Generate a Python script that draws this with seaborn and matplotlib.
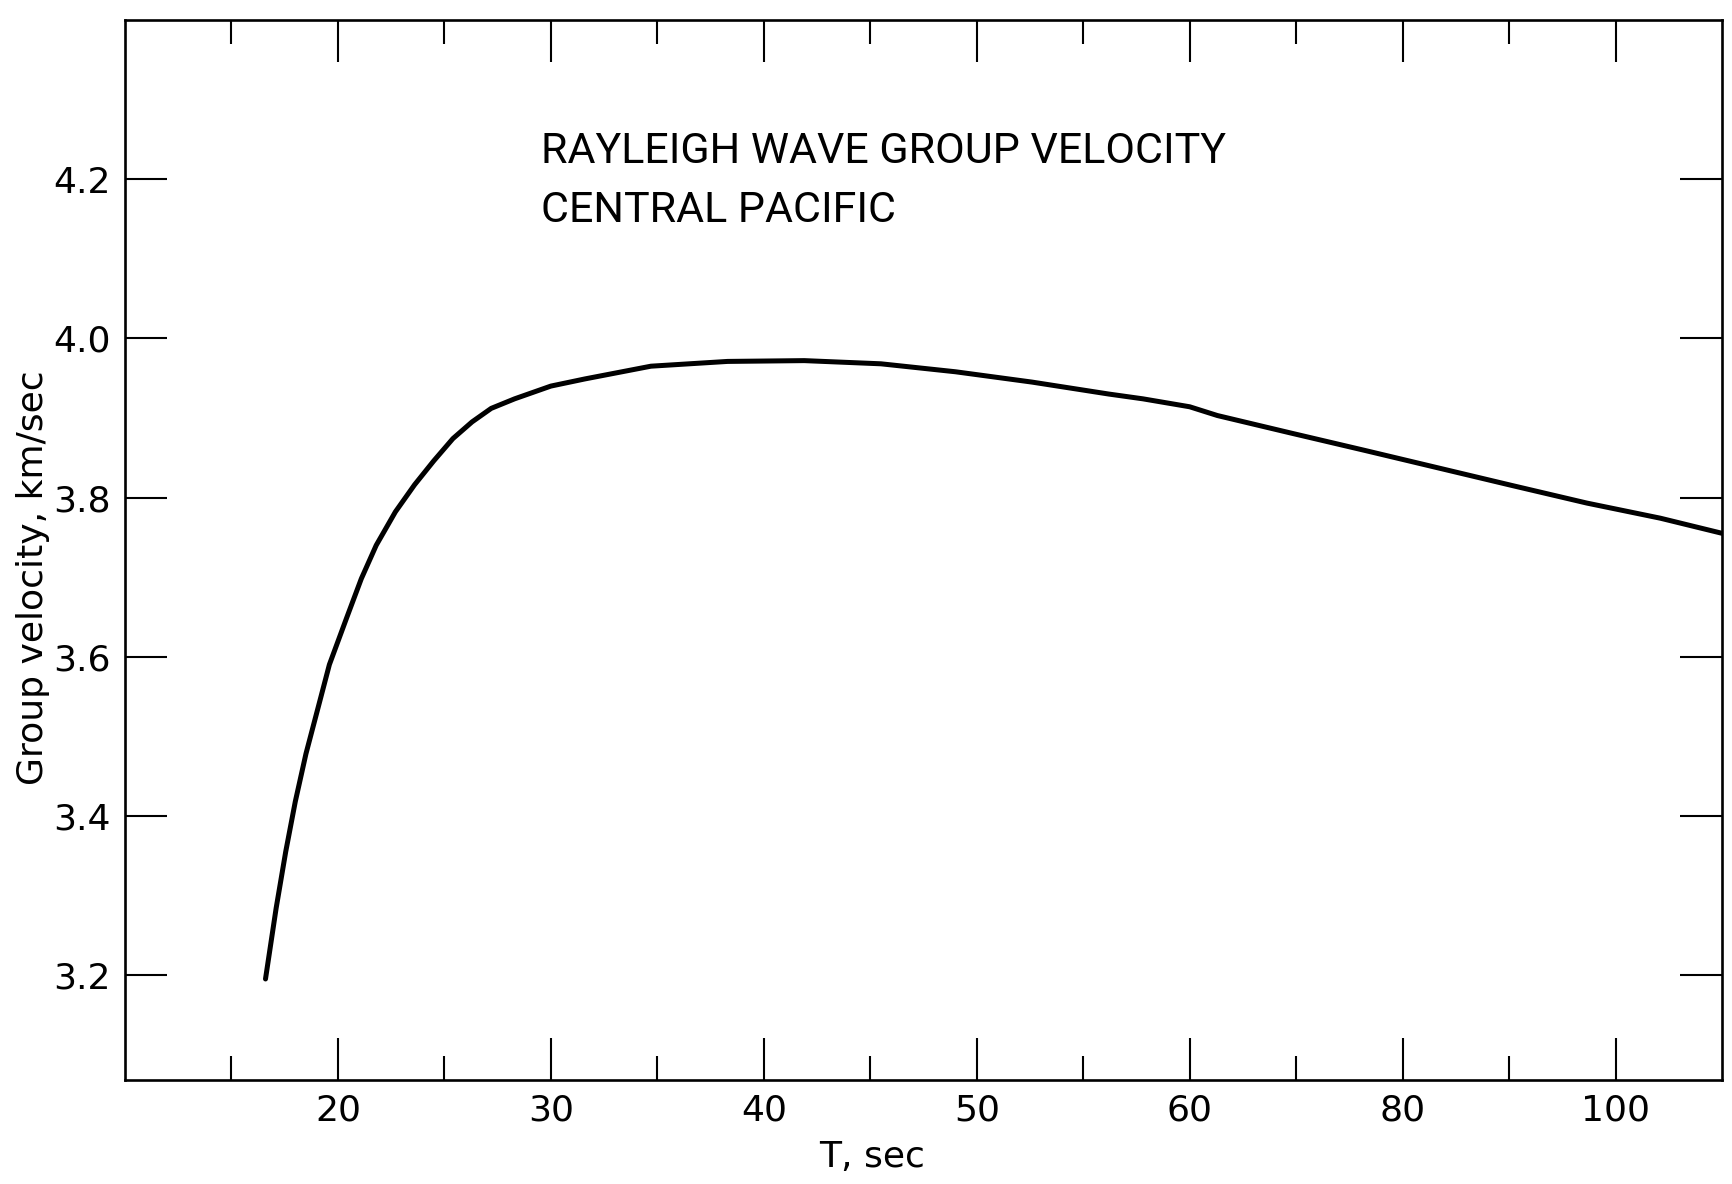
import numpy as np
import pandas as pd
import matplotlib
matplotlib.use("Agg")
import matplotlib.pyplot as plt
from matplotlib.ticker import NullLocator
import seaborn as sns

# ---- data ----
period_s = [16.6, 17.1, 17.55, 18.0, 18.5, 19.1, 19.6, 20.4, 21.1, 21.8, 22.7,
            23.6, 24.5, 25.4, 26.3, 27.2, 28.3, 30.0, 31.6, 34.7, 38.3, 41.9,
            45.5, 49.0, 52.6, 56.2, 57.8, 60.0, 62.6, 69.5, 76.5, 83.4, 90.3,
            97.3, 104.2, 110.0]
group_velocity = [3.195, 3.284, 3.355, 3.418, 3.478, 3.539, 3.590, 3.648, 3.698,
                  3.740, 3.782, 3.816, 3.846, 3.874, 3.895, 3.912, 3.924, 3.940,
                  3.949, 3.965, 3.971, 3.972, 3.968, 3.958, 3.945, 3.930, 3.924,
                  3.914, 3.903, 3.881, 3.859, 3.837, 3.815, 3.793, 3.774, 3.755]

# period axis: evenly spaced divisions (5 s up to 60, then 10 s)
axis_periods = [10, 15, 20, 25, 30, 35, 40, 45, 50, 55, 60, 70, 80, 90, 100, 110]
x_major = [20, 30, 40, 50, 60, 80, 100]
x_major_labels = ["20", "30", "40", "50", "60", "80", "100"]
x_minor = [15, 25, 35, 45, 55, 70, 90]
y_ticks = [3.2, 3.4, 3.6, 3.8, 4.0, 4.2]
y_tick_labels = ["3.2", "3.4", "3.6", "3.8", "4.0", "4.2"]

title_lines = ["RAYLEIGH WAVE GROUP VELOCITY", "CENTRAL PACIFIC"]
x_label = "T, sec"
y_label = "Group velocity, km/sec"

df = pd.DataFrame({"T": period_s, "U": group_velocity})

sns.set_style("ticks")
plt.rcParams["font.family"] = ["DejaVu Sans"]
plt.rcParams["axes.linewidth"] = 1.9
plt.rcParams["text.color"] = "black"
plt.rcParams["axes.labelcolor"] = "black"
plt.rcParams["xtick.color"] = "black"
plt.rcParams["ytick.color"] = "black"
plt.rcParams["axes.edgecolor"] = "black"

fig = plt.figure(figsize=(17.33, 11.84), dpi=100)
ax = fig.add_axes([0.0721, 0.0878, 0.9216, 0.8953])

sns.lineplot(data=df, x="T", y="U", ax=ax, color="black", linewidth=3.6,
             sort=False, estimator=None)

ap = np.array(axis_periods, dtype=float)
pos = np.arange(len(ap), dtype=float)


def fwd(t):
    return np.interp(t, ap, pos)


def inv(p):
    return np.interp(p, pos, ap)


ax.set_xscale("function", functions=(fwd, inv))
ax.set_xlim(axis_periods[0], axis_periods[-1])
ax.set_ylim(3.068, 4.40)

ax.set_xticks(x_major)
ax.set_xticklabels(x_major_labels)
ax.set_xticks(x_minor, minor=True)
ax.set_yticks(y_ticks)
ax.set_yticklabels(y_tick_labels)
ax.yaxis.set_minor_locator(NullLocator())

ax.tick_params(axis="x", which="major", direction="in", length=30, width=1.5,
               top=True, bottom=True, pad=10, labelsize=26)
ax.tick_params(axis="x", which="minor", direction="in", length=17, width=1.5,
               top=True, bottom=True)
ax.tick_params(axis="y", which="major", direction="in", length=30, width=1.5,
               left=True, right=True, pad=10, labelsize=26)

for s in ax.spines.values():
    s.set_visible(True)
    s.set_linewidth(1.9)
    s.set_color("black")

ax.set_xlabel(x_label, fontsize=26, va="center")
ax.xaxis.set_label_coords(0.468, -0.073)
ax.set_ylabel(y_label, fontsize=26, va="center")
ax.yaxis.set_label_coords(-0.0576, 0.474)

title_font = ["Roboto", "DejaVu Sans"]
ax.text(0.2605, 0.865, title_lines[0], transform=ax.transAxes, fontsize=31,
        family=title_font, va="baseline", ha="left", color="black")
ax.text(0.2605, 0.809, title_lines[1], transform=ax.transAxes, fontsize=31,
        family=title_font, va="baseline", ha="left", color="black")

fig.savefig("out.png", dpi=100, facecolor="white")
